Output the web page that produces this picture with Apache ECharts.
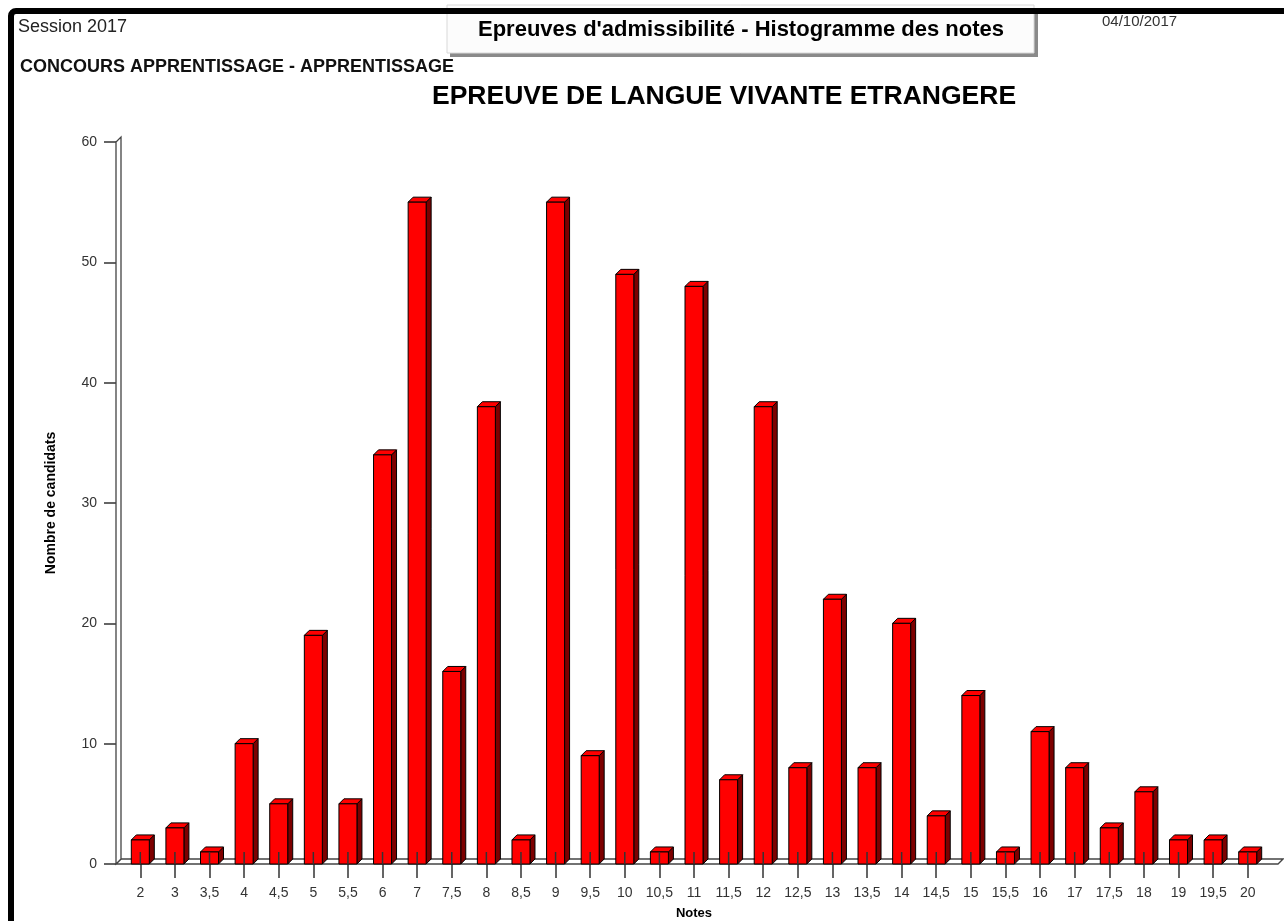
<!DOCTYPE html>
<html>
<head>
<meta charset="utf-8">
<script src="https://cdn.jsdelivr.net/npm/echarts@6/dist/echarts.min.js"></script>
<style>
html,body{margin:0;padding:0;background:#fff;}
#main{width:1284px;height:921px;}
</style>
</head>
<body>
<div id="main"></div>
<script>
// ---- data ----
const categories = ['2','3','3,5','4','4,5','5','5,5','6','7','7,5','8','8,5','9','9,5','10','10,5','11','11,5','12','12,5','13','13,5','14','14,5','15','15,5','16','17','17,5','18','19','19,5','20'];
const counts = [2,3,1,10,5,19,5,34,55,16,38,2,55,9,49,1,48,7,38,8,22,8,20,4,14,1,11,8,3,6,2,2,1];
const yTicks = [0,10,20,30,40,50,60];
const headerLeft = 'Session 2017';
const headerSub = 'CONCOURS APPRENTISSAGE - APPRENTISSAGE';
const boxTitle = "Epreuves d'admissibilité - Histogramme des notes";
const dateText = '04/10/2017';
const mainTitle = 'EPREUVE DE LANGUE VIVANTE ETRANGERE';
const xName = 'Notes';
const yName = 'Nombre de candidats';

const FONT = "'Liberation Sans', Arial, sans-serif";
const NARROW = "'Liberation Sans Narrow', 'Liberation Sans', Arial, sans-serif";
const DEPTH = 5;

function renderFrame(params, api) {
  const cs = params.coordSys;
  const y0 = api.coord([0, 0])[1];
  const yTop = api.coord([0, yTicks[yTicks.length - 1]])[1];
  const wx = cs.x - 7;
  const rx = cs.x + cs.width + 13;
  const d = DEPTH;
  return {
    type: 'group',
    children: [
      {type: 'polygon', shape: {points: [[wx, y0], [wx + d, y0 - d], [rx + d, y0 - d], [rx, y0]]},
       style: {fill: '#fff', stroke: '#444', lineWidth: 1.3}},
      {type: 'polygon', shape: {points: [[wx, y0], [wx, yTop], [wx + d, yTop - d], [wx + d, y0 - d]]},
       style: {fill: '#fff', stroke: '#444', lineWidth: 1.3}}
    ]
  };
}

function renderBar(params, api) {
  const idx = api.value(0);
  const v = api.value(1);
  const top = api.coord([idx, v]);
  const base = api.coord([idx, 0]);
  const hw = 9, d = DEPTH;
  const x = top[0], yt = top[1], yb = base[1];
  return {
    type: 'group',
    children: [
      {type: 'polygon', shape: {points: [[x + hw, yt], [x + hw + d, yt - d], [x + hw + d, yb - d], [x + hw, yb]]},
       style: {fill: '#7d0000', stroke: '#000', lineWidth: 1}},
      {type: 'polygon', shape: {points: [[x - hw, yt], [x - hw + d, yt - d], [x + hw + d, yt - d], [x + hw, yt]]},
       style: {fill: '#ff0000', stroke: '#000', lineWidth: 1}},
      {type: 'rect', shape: {x: x - hw, y: yt, width: 2 * hw, height: yb - yt},
       style: {fill: '#ff0000', stroke: '#000', lineWidth: 1}},
      {type: 'line', shape: {x1: x, y1: yb - 12, x2: x, y2: yb},
       style: {stroke: '#333', lineWidth: 1.5}}
    ]
  };
}

const chart = echarts.init(document.getElementById('main'), null, {renderer: 'canvas'});
chart.setOption({
  animation: false,
  backgroundColor: '#fff',
  title: {
    text: mainTitle,
    left: 432, top: 83, padding: 0,
    textStyle: {fontFamily: FONT, fontSize: 26.5, fontWeight: 'bold', color: '#000'}
  },
  grid: {left: 123, right: 19, top: 142, bottom: 57, containLabel: false, outerBoundsMode: 'none'},
  xAxis: {
    type: 'category',
    data: categories,
    name: xName,
    nameLocation: 'middle',
    nameGap: 43,
    nameTextStyle: {fontFamily: FONT, fontSize: 13, fontWeight: 'bold', color: '#000'},
    axisLine: {show: false},
    axisTick: {show: true, alignWithLabel: true, length: 14, lineStyle: {color: '#333', width: 1.5}},
    axisLabel: {margin: 22, fontFamily: NARROW, fontSize: 14, color: '#333', interval: 0},
    splitLine: {show: false}
  },
  yAxis: {
    type: 'value',
    min: 0, max: 60, interval: 10,
    offset: 7,
    name: yName,
    nameLocation: 'middle',
    nameGap: 58,
    nameRotate: 90,
    nameTextStyle: {fontFamily: FONT, fontSize: 14, fontWeight: 'bold', color: '#000'},
    axisLine: {show: false},
    axisTick: {show: true, length: 12, lineStyle: {color: '#333', width: 1.5}},
    axisLabel: {margin: 19, fontFamily: NARROW, fontSize: 14, color: '#333'},
    splitLine: {show: false}
  },
  series: [
    {
      type: 'custom',
      name: 'frame',
      renderItem: renderFrame,
      data: [[0, 0]],
      encode: {x: 0, y: 1},
      silent: true,
      z: 1
    },
    {
      type: 'custom',
      name: 'Nombre de candidats',
      renderItem: renderBar,
      data: categories.map((c, i) => [i, counts[i]]),
      encode: {x: 0, y: 1},
      z: 3
    }
  ],
  graphic: [
    {type: 'rect', shape: {x: 450, y: 8, width: 588, height: 49}, style: {fill: '#8a8a8a'}, z: 10},
    {type: 'rect', shape: {x: 447, y: 5, width: 587, height: 48}, style: {fill: '#fcfcfc', stroke: '#d8d8d8', lineWidth: 1}, z: 11},
    {type: 'rect', shape: {x: 11, y: 11, width: 1400, height: 1000, r: 5}, style: {fill: 'none', stroke: '#000', lineWidth: 6}, z: 12},
    {type: 'text', x: 741, y: 30, z: 13,
     style: {text: boxTitle, font: "bold 22px " + FONT, fill: '#000', align: 'center', verticalAlign: 'middle', textAlign: 'center', textVerticalAlign: 'middle'}},
    {type: 'text', x: 18, y: 27, z: 13,
     style: {text: headerLeft, font: "18px " + FONT, fill: '#222', align: 'left', verticalAlign: 'middle', textAlign: 'left', textVerticalAlign: 'middle'}},
    {type: 'text', x: 20, y: 67, z: 13,
     style: {text: headerSub, font: "bold 18px " + FONT, fill: '#111', align: 'left', verticalAlign: 'middle', textAlign: 'left', textVerticalAlign: 'middle'}},
    {type: 'text', x: 1102, y: 22, z: 13,
     style: {text: dateText, font: "15px " + FONT, fill: '#333', align: 'left', verticalAlign: 'middle', textAlign: 'left', textVerticalAlign: 'middle'}}
  ]
});
</script>
</body>
</html>
